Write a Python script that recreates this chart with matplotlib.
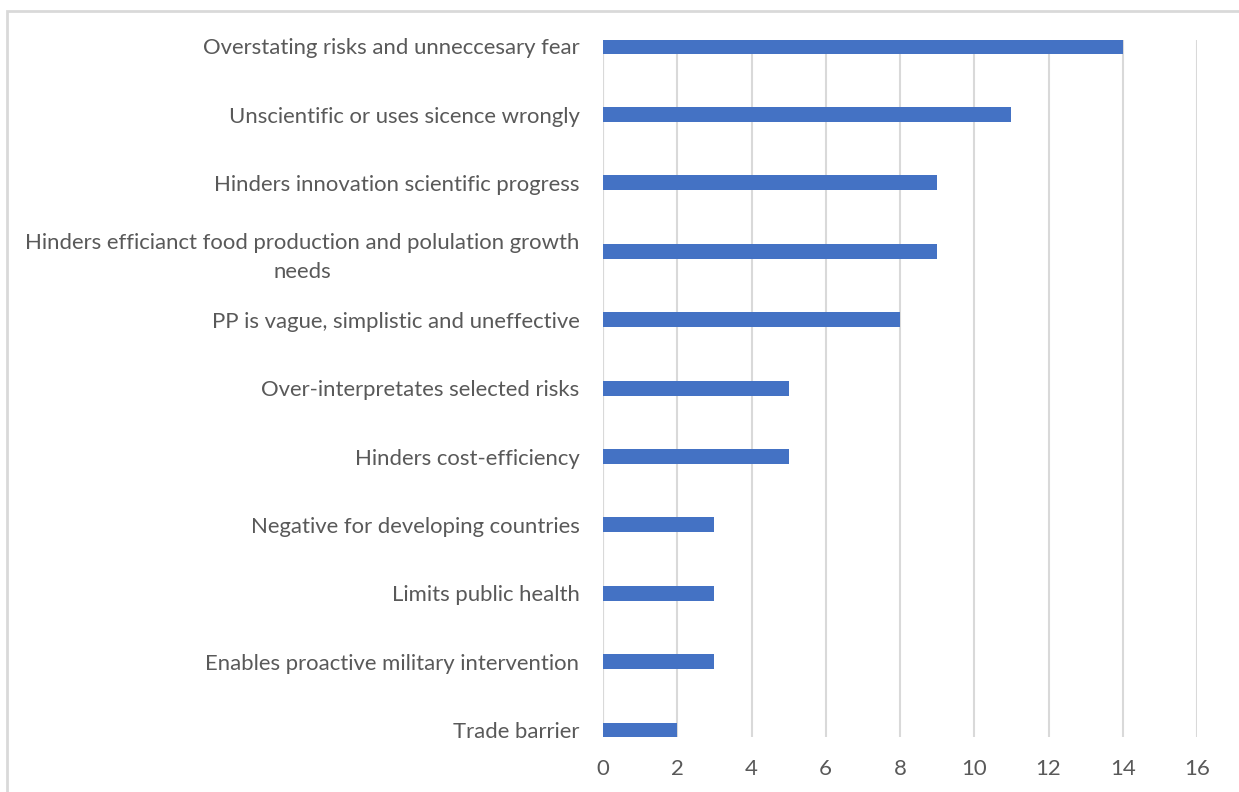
import matplotlib.pyplot as plt
from matplotlib.patches import Rectangle

# data
categories = [
    "Overstating risks and unneccesary fear",
    "Unscientific or uses sicence wrongly",
    "Hinders innovation scientific progress",
    "Hinders efficianct food production and polulation growth\nneeds",
    "PP is vague, simplistic and uneffective",
    "Over-interpretates selected risks",
    "Hinders cost-efficiency",
    "Negative for developing countries",
    "Limits public health",
    "Enables proactive military intervention",
    "Trade barrier",
]
counts = [14, 11, 9, 9, 8, 5, 5, 3, 3, 3, 2]
x_ticks = [0, 2, 4, 6, 8, 10, 12, 14, 16]

text_color = "#595959"
bar_color = "#4472c4"
grid_color = "#d9d9d9"

plt.rcParams["font.family"] = ["Lato", "DejaVu Sans"]

fig = plt.figure(figsize=(12.39, 7.92), dpi=100)
# light frame of the chart area (top and left edges visible)
fig.patches.append(Rectangle((7 / 1239, -0.1), 1.2, 1 - 11 / 792 + 0.1,
                             transform=fig.transFigure, fill=False,
                             edgecolor=grid_color, linewidth=2))

ax = fig.add_axes([603 / 1239, 1 - 737 / 792, (1197 - 603) / 1239, (737 - 40) / 792])
ypos = list(range(len(categories)))
ax.barh(ypos, counts, height=0.22, color=bar_color, zorder=3)

ax.set_xlim(0, 16)
ax.set_ylim(10.1, -0.09)
ax.set_xticks(x_ticks)
ax.set_yticks(ypos)
ax.set_yticklabels(categories, multialignment="center", linespacing=1.55)
ax.tick_params(axis="both", length=0, labelsize=15.9, colors=text_color)
ax.tick_params(axis="x", pad=16)
ax.tick_params(axis="y", pad=17)

ax.grid(axis="x", color=grid_color, linewidth=1.5, zorder=0)
for s in ax.spines.values():
    s.set_visible(False)
ax.axvline(0, color=grid_color, linewidth=1.5, zorder=1)

fig.savefig("out.png", dpi=100)
